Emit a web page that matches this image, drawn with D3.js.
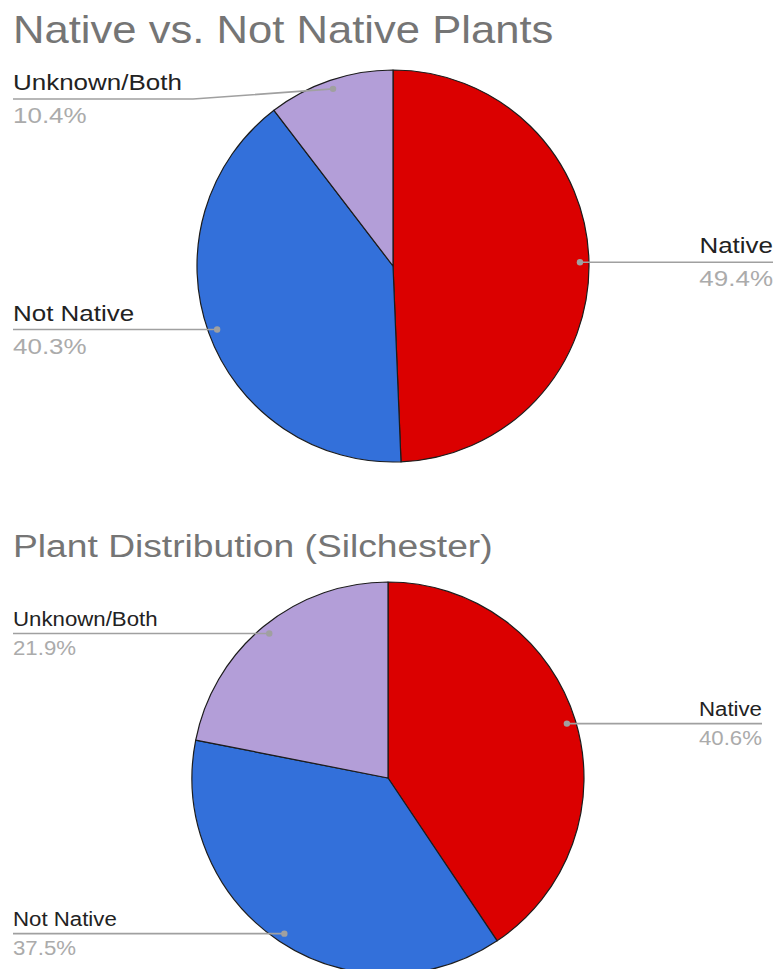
<!DOCTYPE html>
<html>
<head>
<meta charset="utf-8">
<script src="https://cdn.jsdelivr.net/npm/d3@7"></script>
<style>
  html, body { margin: 0; padding: 0; background: #fff; }
  svg { display: block; font-family: "Liberation Sans", Arial, Helvetica, sans-serif; }
</style>
</head>
<body>
<svg id="chart" width="776" height="969"></svg>
<script>
// Slice categories and colours shared by both pies
const categories = ["Native", "Not Native", "Unknown/Both"];
const sliceColors = ["#db0000", "#3370da", "#b39ed8"];

// Percent shares per category
const overallValues = [49.4, 40.3, 10.4];
const silchesterValues = [40.6, 37.5, 21.9];

const chartTitles = ["Native vs. Not Native Plants", "Plant Distribution (Silchester)"];

// Layout for each pie panel
const panels = [
  { title: chartTitles[0], values: overallValues,
    cx: 393, cy: 266, r: 196,
    titleX: 13, titleY: 43, titleSize: 39, titleStretch: 1.118,
    labelSize: 22, labelStretch: 1.18, leftX: 13, rightX: 773, minLineY: 99,
    nameDy: -9, valueDy: 24 },
  { title: chartTitles[1], values: silchesterValues,
    cx: 388, cy: 778, r: 196,
    titleX: 13, titleY: 557, titleSize: 31, titleStretch: 1.2,
    labelSize: 19.5, labelStretch: 1.14, leftX: 13, rightX: 762, minLineY: 600,
    nameDy: -8, valueDy: 21 }
];

const svg = d3.select("#chart");
const color = d3.scaleOrdinal().domain(categories).range(sliceColors);

// Stretch text horizontally to its intended width
function stretch(sel, factor) {
  sel.each(function () {
    const w = this.getComputedTextLength();
    d3.select(this).attr("textLength", w * factor).attr("lengthAdjust", "spacingAndGlyphs");
  });
}

panels.forEach(p => {
  const data = categories.map((c, i) => ({ category: c, value: p.values[i] }));
  const pie = d3.pie().sort(null).value(d => d.value);
  const arcs = pie(data);
  const arc = d3.arc().innerRadius(0).outerRadius(p.r);

  const title = svg.append("text")
    .attr("x", p.titleX).attr("y", p.titleY)
    .attr("font-size", p.titleSize)
    .attr("fill", "#757575")
    .text(p.title);
  stretch(title, p.titleStretch);

  const g = svg.append("g").attr("transform", `translate(${p.cx},${p.cy})`);
  g.selectAll("path.slice")
    .data(arcs)
    .join("path")
    .attr("class", "slice")
    .attr("d", arc)
    .attr("fill", d => color(d.data.category))
    .attr("stroke", "#1c1c1c")
    .attr("stroke-width", 1.2)
    .attr("stroke-linejoin", "round");

  // Leader lines and labels
  const dotArc = d3.arc().innerRadius(p.r - 9).outerRadius(p.r - 9);
  arcs.forEach(a => {
    const [dx, dy] = dotArc.centroid(a);
    const x = p.cx + dx, y = p.cy + dy;
    const right = x > p.cx;
    const lineY = Math.max(y, p.minLineY);
    let pts;
    if (right) {
      pts = [[x, y], [p.rightX, lineY]];
    } else if (Math.abs(lineY - y) > 2) {
      pts = [[p.leftX, lineY], [x - 140, lineY], [x, y]];
    } else {
      pts = [[p.leftX, lineY], [x, y]];
    }
    svg.append("path")
      .attr("d", d3.line()(pts))
      .attr("fill", "none")
      .attr("stroke", "#a0a0a0")
      .attr("stroke-width", 1.6);
    svg.append("circle")
      .attr("cx", x).attr("cy", y).attr("r", 3.2)
      .attr("fill", "#a0a0a0");

    const tx = right ? p.rightX : p.leftX;
    const anchor = right ? "end" : "start";
    const name = svg.append("text")
      .attr("x", tx).attr("y", lineY + p.nameDy)
      .attr("text-anchor", anchor)
      .attr("font-size", p.labelSize)
      .attr("fill", "#222222")
      .text(a.data.category);
    stretch(name, p.labelStretch);
    const val = svg.append("text")
      .attr("x", tx).attr("y", lineY + p.valueDy)
      .attr("text-anchor", anchor)
      .attr("font-size", p.labelSize)
      .attr("fill", "#ababab")
      .text(a.data.value.toFixed(1) + "%");
    stretch(val, p.labelStretch);
  });
});
</script>
</body>
</html>
